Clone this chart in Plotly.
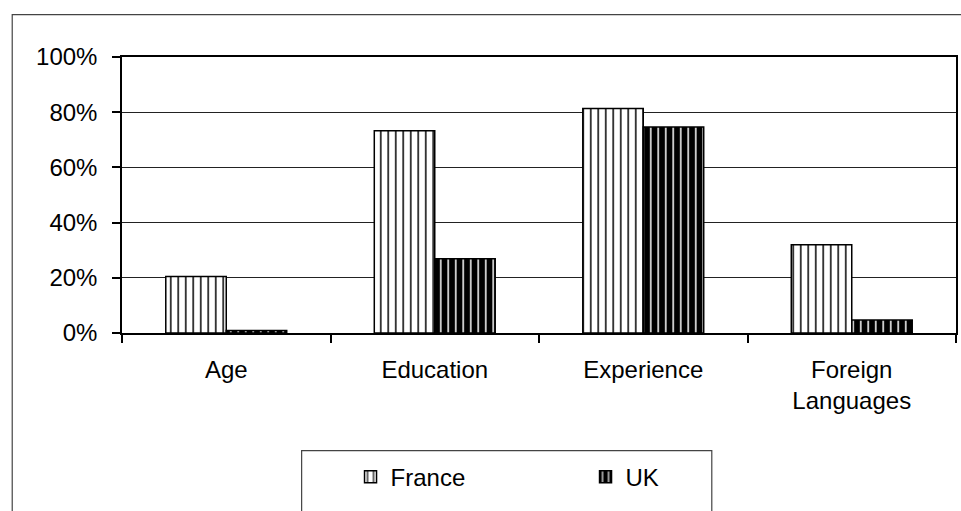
import plotly.graph_objects as go

categories = ["Age", "Education", "Experience", "Foreign<br>Languages"]
france = [0.205, 0.733, 0.813, 0.32]
uk = [0.009, 0.269, 0.746, 0.047]
series_names = ["France", "UK"]
y_ticks = [0, 0.2, 0.4, 0.6, 0.8, 1.0]

W, H = 961, 511
L, R, T, B = 122, 957.7, 57.3, 333.3


def px_x(p):
    return (p - L) / (R - L)


def px_y(p):
    return (B - p) / (B - T)


FONT = "Liberation Sans, Arial, sans-serif"

fig = go.Figure()
fig.add_trace(go.Bar(
    x=categories, y=france, name=series_names[0],
    marker=dict(color="white", line=dict(color="black", width=1.5),
                pattern=dict(shape="|", fgcolor="black", bgcolor="white",
                             size=7.5, solidity=0.2, fillmode="replace")),
))
fig.add_trace(go.Bar(
    x=categories, y=uk, name=series_names[1],
    marker=dict(color="black", line=dict(color="black", width=1.5),
                pattern=dict(shape="|", fgcolor="white", bgcolor="black",
                             size=7.5, solidity=0.2, fillmode="replace")),
))

fig.update_layout(
    width=W, height=H,
    margin=dict(l=L, r=W - R, t=T, b=H - B, pad=0),
    paper_bgcolor="white", plot_bgcolor="white",
    barmode="group", bargap=0.42, bargroupgap=0,
    font=dict(family=FONT, size=24, color="black"),
    showlegend=True,
    legend=dict(orientation="h", x=px_x(351), y=px_y(455), xanchor="left", yanchor="top",
                bgcolor="rgba(0,0,0,0)", borderwidth=0, entrywidth=190,
                font=dict(family=FONT, size=24, color="black")),
)

fig.update_xaxes(
    type="category", showline=True, linecolor="black", linewidth=1.5, mirror=True,
    ticks="outside", tickson="boundaries", ticklen=8, tickcolor="black", tickwidth=1.5,
    showgrid=False, ticklabelstandoff=14,
)
fig.update_yaxes(
    range=[0, 1], tickvals=y_ticks, tickformat=".0%",
    showline=True, linecolor="black", linewidth=1.5, mirror=True,
    ticks="outside", ticklen=8, tickcolor="black", tickwidth=1.5,
    showgrid=True, gridcolor="#222222", gridwidth=1, zeroline=False,
    ticklabelstandoff=10,
)

# outer chart-area border (left and top visible, rest beyond the window)
fig.add_shape(type="rect", xref="paper", yref="paper",
              x0=px_x(12), x1=px_x(990), y0=px_y(540), y1=px_y(15),
              line=dict(color="#444444", width=1.2), fillcolor="rgba(0,0,0,0)", layer="below")
# legend box
fig.add_shape(type="rect", xref="paper", yref="paper",
              x0=px_x(302), x1=px_x(713), y0=px_y(540), y1=px_y(451),
              line=dict(color="#444444", width=1.2), fillcolor="rgba(0,0,0,0)", layer="below")

fig.write_html("out.html")
